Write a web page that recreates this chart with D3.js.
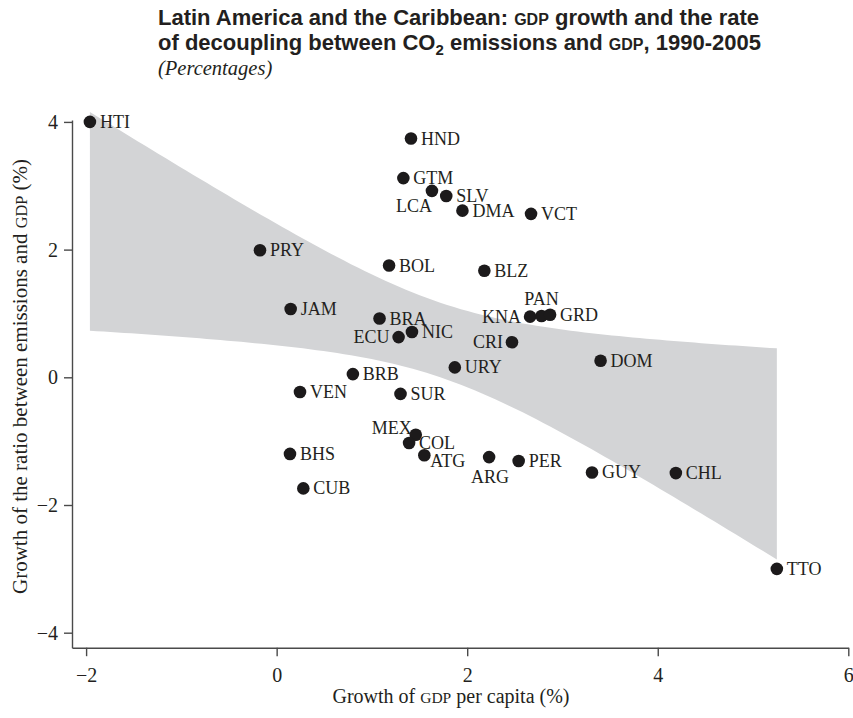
<!DOCTYPE html>
<html>
<head>
<meta charset="utf-8">
<script src="https://cdn.jsdelivr.net/npm/d3@7"></script>
<style>
  html, body { margin: 0; padding: 0; background: #fff; }
  svg { display: block; }
  .serif { font-family: "Liberation Serif", "Times New Roman", serif; fill: #231f20; }
  .sans { font-family: "Liberation Sans", Arial, sans-serif; fill: #231f20; }
</style>
</head>
<body>
<svg id="chart" width="853" height="718"></svg>
<script>
// Country codes, GDP per capita growth (x) and growth of the emissions/GDP ratio (y), %
const countries = ["HTI","PRY","JAM","HND","GTM","LCA","SLV","DMA","VCT","BOL","BLZ",
  "BRA","ECU","NIC","KNA","PAN","GRD","CRI","URY","DOM","BRB","SUR","VEN",
  "MEX","COL","ATG","ARG","PER","BHS","CUB","GUY","CHL","TTO"];
const gdpGrowth = [-1.96, -0.175, 0.147, 1.41, 1.33, 1.63, 1.78, 1.95, 2.67, 1.18, 2.18,
  1.08, 1.28, 1.42, 2.66, 2.78, 2.87, 2.47, 1.87, 3.40, 0.80, 1.30, 0.245,
  1.46, 1.39, 1.55, 2.23, 2.54, 0.14, 0.28, 3.31, 4.19, 5.25];
const decoupling = [4.00, 1.99, 1.07, 3.74, 3.12, 2.92, 2.84, 2.61, 2.56, 1.75, 1.67,
  0.92, 0.63, 0.71, 0.95, 0.96, 0.98, 0.55, 0.155, 0.26, 0.05, -0.26, -0.23,
  -0.90, -1.03, -1.22, -1.25, -1.31, -1.20, -1.74, -1.49, -1.50, -3.00];

const xTicks = [-2, 0, 2, 4, 6];
const yTicks = [-4, -2, 0, 2, 4];

// Where each marker label sits, as a clock position (default 3 o'clock)
const labelClock = { LCA: 7, ECU: 9, KNA: 9, CRI: 9, PAN: 12, ARG: 6, MEX: 10, ATG: 4 };

// Student t critical value, two-sided 95%, n - 2 = 31 degrees of freedom
const tCrit = 2.0395;

const points = countries.map((c, i) => ({ code: c, x: gdpGrowth[i], y: decoupling[i] }));

const svg = d3.select("#chart");

const x = d3.scaleLinear().domain([-2.148, 6]).range([72, 848.3]);
const y = d3.scaleLinear().domain([-4.235, 4.03]).range([647.7, 120]);

// ---- Least-squares fit and its 95% confidence band ----
const n = points.length;
const mx = d3.mean(points, d => d.x);
const my = d3.mean(points, d => d.y);
const sxx = d3.sum(points, d => (d.x - mx) ** 2);
const sxy = d3.sum(points, d => (d.x - mx) * (d.y - my));
const slope = sxy / sxx;
const intercept = my - slope * mx;
const sse = d3.sum(points, d => (d.y - (intercept + slope * d.x)) ** 2);
const se = Math.sqrt(sse / (n - 2));
const [xMin, xMax] = d3.extent(points, d => d.x);
const bandPts = d3.range(0, 101).map(k => {
  const xv = xMin + (xMax - xMin) * k / 100;
  const fit = intercept + slope * xv;
  const half = tCrit * se * Math.sqrt(1 / n + (xv - mx) ** 2 / sxx);
  return { x: xv, lo: fit - half, hi: fit + half };
});

svg.append("path")
  .datum(bandPts)
  .attr("fill", "#d3d4d6")
  .attr("d", d3.area().x(d => x(d.x)).y0(d => y(d.lo)).y1(d => y(d.hi)));

// ---- Axes ----
const fmt = d3.format("d");
const yAxis = svg.append("g")
  .attr("transform", "translate(72,0)")
  .call(d3.axisLeft(y).tickValues(yTicks).tickFormat(fmt).tickSize(8).tickSizeOuter(0).tickPadding(6));
const xAxis = svg.append("g")
  .attr("transform", "translate(0,647.7)")
  .call(d3.axisBottom(x).tickValues(xTicks).tickFormat(fmt).tickSize(8.5).tickSizeOuter(0).tickPadding(11.5));

[yAxis, xAxis].forEach(g => {
  g.attr("font-family", null).attr("font-size", null);
  g.selectAll("path.domain, line").attr("stroke", "#4a4a4a").attr("stroke-width", 1.4);
  g.selectAll("text").attr("class", "serif").style("font-size", "20px").attr("fill", "#231f20");
});

// ---- Markers ----
svg.append("g").selectAll("circle")
  .data(points)
  .join("circle")
  .attr("cx", d => x(d.x))
  .attr("cy", d => y(d.y))
  .attr("r", 6.3)
  .attr("fill", "#1c1a1b");

const clockOffset = {
  3:  { dx: 10, dy: 6,  anchor: "start" },
  9:  { dx: -9, dy: 6,  anchor: "end" },
  7:  { dx: 0,  dy: 21, anchor: "end" },
  12: { dx: 0,  dy: -11, anchor: "middle" },
  6:  { dx: 1,  dy: 26, anchor: "middle" },
  10: { dx: -4, dy: -1, anchor: "end" },
  4:  { dx: 6,  dy: 12, anchor: "start" }
};

svg.append("g").selectAll("text")
  .data(points)
  .join("text")
  .attr("class", "serif")
  .style("font-size", "18px")
  .each(function (d) {
    const o = clockOffset[labelClock[d.code] || 3];
    d3.select(this)
      .attr("x", x(d.x) + o.dx)
      .attr("y", y(d.y) + o.dy)
      .attr("text-anchor", o.anchor)
      .text(d.code);
  });

// ---- Axis titles ----
const xTitle = svg.append("text")
  .attr("class", "serif")
  .style("font-size", "20px")
  .attr("x", 451).attr("y", 703)
  .attr("text-anchor", "middle");
xTitle.append("tspan").text("Growth of ");
xTitle.append("tspan").style("font-size", "15.5px").text("GDP");
xTitle.append("tspan").text(" per capita (%)");

const yTitle = svg.append("text")
  .attr("class", "serif")
  .style("font-size", "21px")
  .attr("text-anchor", "middle")
  .attr("transform", "translate(26.7,376.5) rotate(-90)");
yTitle.append("tspan").text("Growth of the ratio between emissions and ");
yTitle.append("tspan").style("font-size", "16.3px").text("GDP");
yTitle.append("tspan").text(" (%)");

// ---- Heading ----
const t1 = svg.append("text").attr("class", "sans")
  .style("font-size", "22px").style("font-weight", "bold")
  .attr("x", 158).attr("y", 25);
t1.append("tspan").text("Latin America and the Caribbean: ");
t1.append("tspan").style("font-size", "16px").text("GDP");
t1.append("tspan").text(" growth and the rate");

const t2 = svg.append("text").attr("class", "sans")
  .style("font-size", "22px").style("font-weight", "bold")
  .attr("x", 158).attr("y", 50);
t2.append("tspan").text("of decoupling between CO");
t2.append("tspan").style("font-size", "15px").attr("dy", 5).text("2");
t2.append("tspan").attr("dy", -5).text(" emissions and ");
t2.append("tspan").style("font-size", "16px").text("GDP");
t2.append("tspan").text(", 1990-2005");

svg.append("text").attr("class", "serif")
  .style("font-size", "20.5px").style("font-style", "italic")
  .attr("x", 158).attr("y", 75)
  .text("(Percentages)");
</script>
</body>
</html>
